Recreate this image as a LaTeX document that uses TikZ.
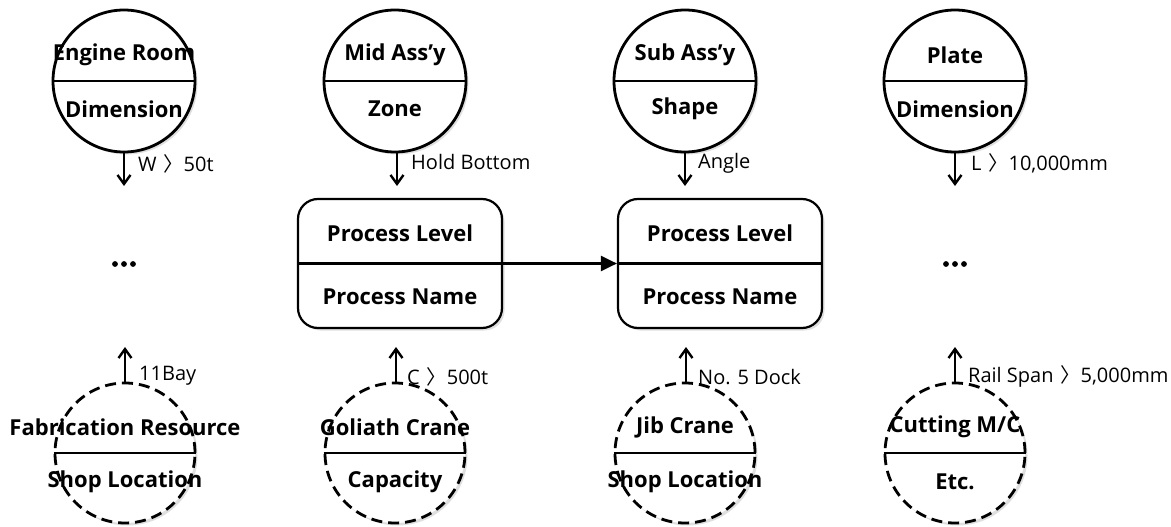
\documentclass[tikz,border=0pt]{standalone}
\usepackage{fontspec}
\setmainfont{Open Sans}
\newfontfamily\cjk{Noto Sans CJK KR}
\usetikzlibrary{arrows.meta,shadows}
\newcommand{\gt}{\hspace{7pt}{\cjk 〉}}
\begin{document}
\begin{tikzpicture}[x=1pt,y=-1pt,
  shd/.style={drop shadow={opacity=0.25,shadow xshift=2.5pt,shadow yshift=-2.5pt}},
  topcirc/.style={circle,draw,line width=2.8pt,minimum size=142pt,inner sep=0pt,fill=white,shd},
  botcirc/.style={circle,draw,line width=2.8pt,dash pattern=on 11pt off 6pt,minimum size=140pt,inner sep=0pt,fill=white,shd},
  procbox/.style={draw,rounded corners=20pt,line width=2.2pt,minimum width=204pt,minimum height=129pt,inner sep=0pt,fill=white,shd},
  divider/.style={line width=2.3pt},
  maintxt/.style={font=\fontsize{22}{24}\selectfont\bfseries,inner sep=0pt},
  lab/.style={font=\fontsize{20}{22}\selectfont,anchor=west,inner sep=0pt},
  varr/.style={-{Straight Barb[length=9pt,width=13pt,line width=2.4pt]},line width=2.4pt},
  harr/.style={-{Triangle[length=16pt,width=15pt]},line width=2.4pt},
]
\useasboundingbox (0,0) rectangle (1171,527);

% top circles
\node[topcirc] (t1) at (124,81) {};
\node[topcirc] (t2) at (395,81) {};
\node[topcirc] (t3) at (685,81) {};
\node[topcirc] (t4) at (955,81) {};
\foreach \n in {t1,t2,t3,t4} \draw[divider] (\n.west) -- (\n.east);

\node[maintxt] (t1a) at (124,55) {Engine Room};
\node[maintxt] (t1b) at (124,109) {Dimension};
\node[maintxt] (t2a) at (395,55) {Mid Ass’y};
\node[maintxt] (t2b) at (395,109) {Zone};
\node[maintxt] (t3a) at (685,55) {Sub Ass’y};
\node[maintxt] (t3b) at (685,109) {Shape};
\node[maintxt] (t4a) at (955,55) {Plate};
\node[maintxt] (t4b) at (955,109) {Dimension};

% process boxes
\node[procbox] (p1) at (400,263.5) {};
\node[procbox] (p2) at (720,263.5) {};
\foreach \n in {p1,p2} \draw[divider] (\n.west) -- (\n.east);
\node[maintxt] (p1a) at (400,233) {Process Level};
\node[maintxt] (p1b) at (400,297) {Process Name};
\node[maintxt] (p2a) at (720,233) {Process Level};
\node[maintxt] (p2b) at (720,297) {Process Name};
\draw[harr] (p1.east) -- (p2.west);

% dots
\node[inner sep=0pt,minimum size=28pt] (d1) at (124,264) {};
\node[inner sep=0pt,minimum size=28pt] (d4) at (955,264) {};
\foreach \n in {d1,d4} {
  \fill ([xshift=-9pt]\n.center) circle (2.9pt);
  \fill (\n.center) circle (2.9pt);
  \fill ([xshift=9pt]\n.center) circle (2.9pt);
}

% bottom circles
\node[botcirc] (b1) at (125,453) {};
\node[botcirc] (b2) at (395,453) {};
\node[botcirc] (b3) at (685,453) {};
\node[botcirc] (b4) at (955,453) {};
\foreach \n in {b1,b2,b3,b4} \draw[divider] (\n.west) -- (\n.east);

\node[maintxt] (b1a) at (125,427) {Fabrication Resource};
\node[maintxt] (b1b) at (125,482) {Shop Location};
\node[maintxt] (b2a) at (395,427) {Goliath Crane};
\node[maintxt] (b2b) at (395,482) {Capacity};
\node[maintxt] (b3a) at (685,427) {Jib Crane};
\node[maintxt] (b3b) at (685,482) {Shop Location};
\node[maintxt] (b4a) at (955,427) {Cutting M/C};
\node[maintxt] (b4b) at (955,482) {Etc.};

% arrow end points
\coordinate (e1) at (124,186);
\coordinate (e2) at (397,186);
\coordinate (e3) at (685,186);
\coordinate (e4) at (955,186);
\coordinate (f1) at (125,347);
\coordinate (f2) at (396,347);
\coordinate (f3) at (686,347);
\coordinate (f4) at (955,347);

\draw[varr] (t1.south) -- (e1);
\draw[varr] (t2.south -| e2) -- (e2);
\draw[varr] (t3.south) -- (e3);
\draw[varr] (t4.south) -- (e4);
\draw[varr] (b1.north) -- (f1);
\draw[varr] (b2.north -| f2) -- (f2);
\draw[varr] (b3.north -| f3) -- (f3);
\draw[varr] (b4.north) -- (f4);

% labels
\node[lab] (l1) at (138,164) {W\gt 50t};
\node[lab] (l2) at (411,162) {Hold Bottom};
\node[lab] (l3) at (698,163) {Angle};
\node[lab] (l4) at (971,163) {L\gt 10,000mm};
\node[lab] (m1) at (139,376) {11Bay};
\node[lab] (m2) at (407,377) {C\gt 500t};
\node[lab] (m3) at (698,377) {No. 5 Dock};
\node[lab] (m4) at (968,376) {Rail Span\gt 5,000mm};
\end{tikzpicture}
\end{document}
